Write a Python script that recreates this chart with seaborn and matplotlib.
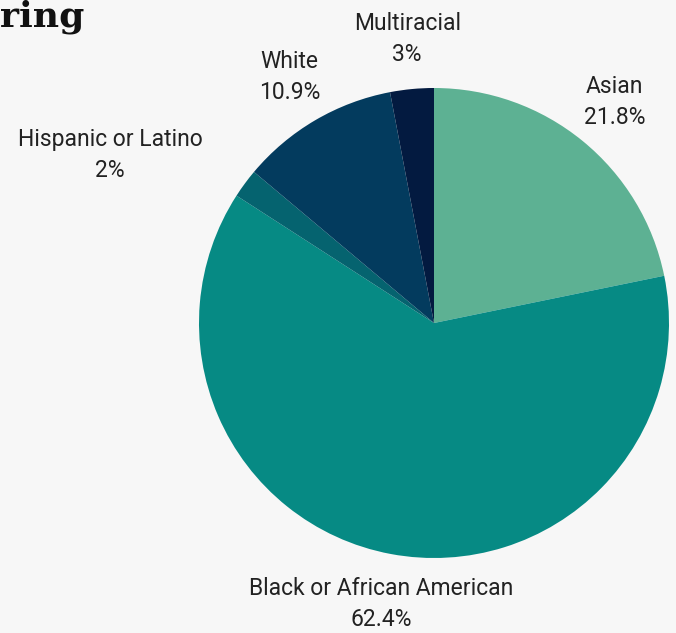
import matplotlib
matplotlib.use("Agg")
import matplotlib.pyplot as plt
import seaborn as sns

# Data
groups = ["Asian", "Black or African American", "Hispanic or Latino", "White", "Multiracial"]
shares = [21.8, 62.4, 2.0, 10.9, 3.0]
share_labels = ["21.8%", "62.4%", "2%", "10.9%", "3%"]
colors = ["#5db193", "#068a84", "#05636f", "#033b5e", "#031a40"]

sns.set_theme(style="white")
plt.rcParams["font.family"] = ["Roboto", "DejaVu Sans"]

fig = plt.figure(figsize=(6.76, 6.33), dpi=100)
fig.patch.set_facecolor("#f7f7f7")
ax = fig.add_axes([0, 0, 1, 1])
ax.set_facecolor("#f7f7f7")

labels = [f"{g}\n{p}" for g, p in zip(groups, share_labels)]
wedges, texts = ax.pie(
    shares, labels=labels, colors=colors, startangle=90, counterclock=False,
    center=(434, 310), radius=235, labeldistance=1.215, frame=True,
    wedgeprops=dict(linewidth=0),
    textprops=dict(fontsize=16.5, color="#222222", ha="center", va="center",
                   linespacing=1.45),
)
ax.set_xlim(0, 676)
ax.set_ylim(0, 633)
ax.set_aspect("equal")
ax.axis("off")
for t in texts:
    t.set_ha("center")
# Hispanic label sits off to the left in the original
texts[2].set_position((110, 633 - 155))

fig.text(0.0, 1.0, "ring", fontsize=26, fontweight="bold", family="DejaVu Serif",
         ha="left", va="top", color="#111111")

fig.savefig("out.png", dpi=100, facecolor=fig.get_facecolor())
